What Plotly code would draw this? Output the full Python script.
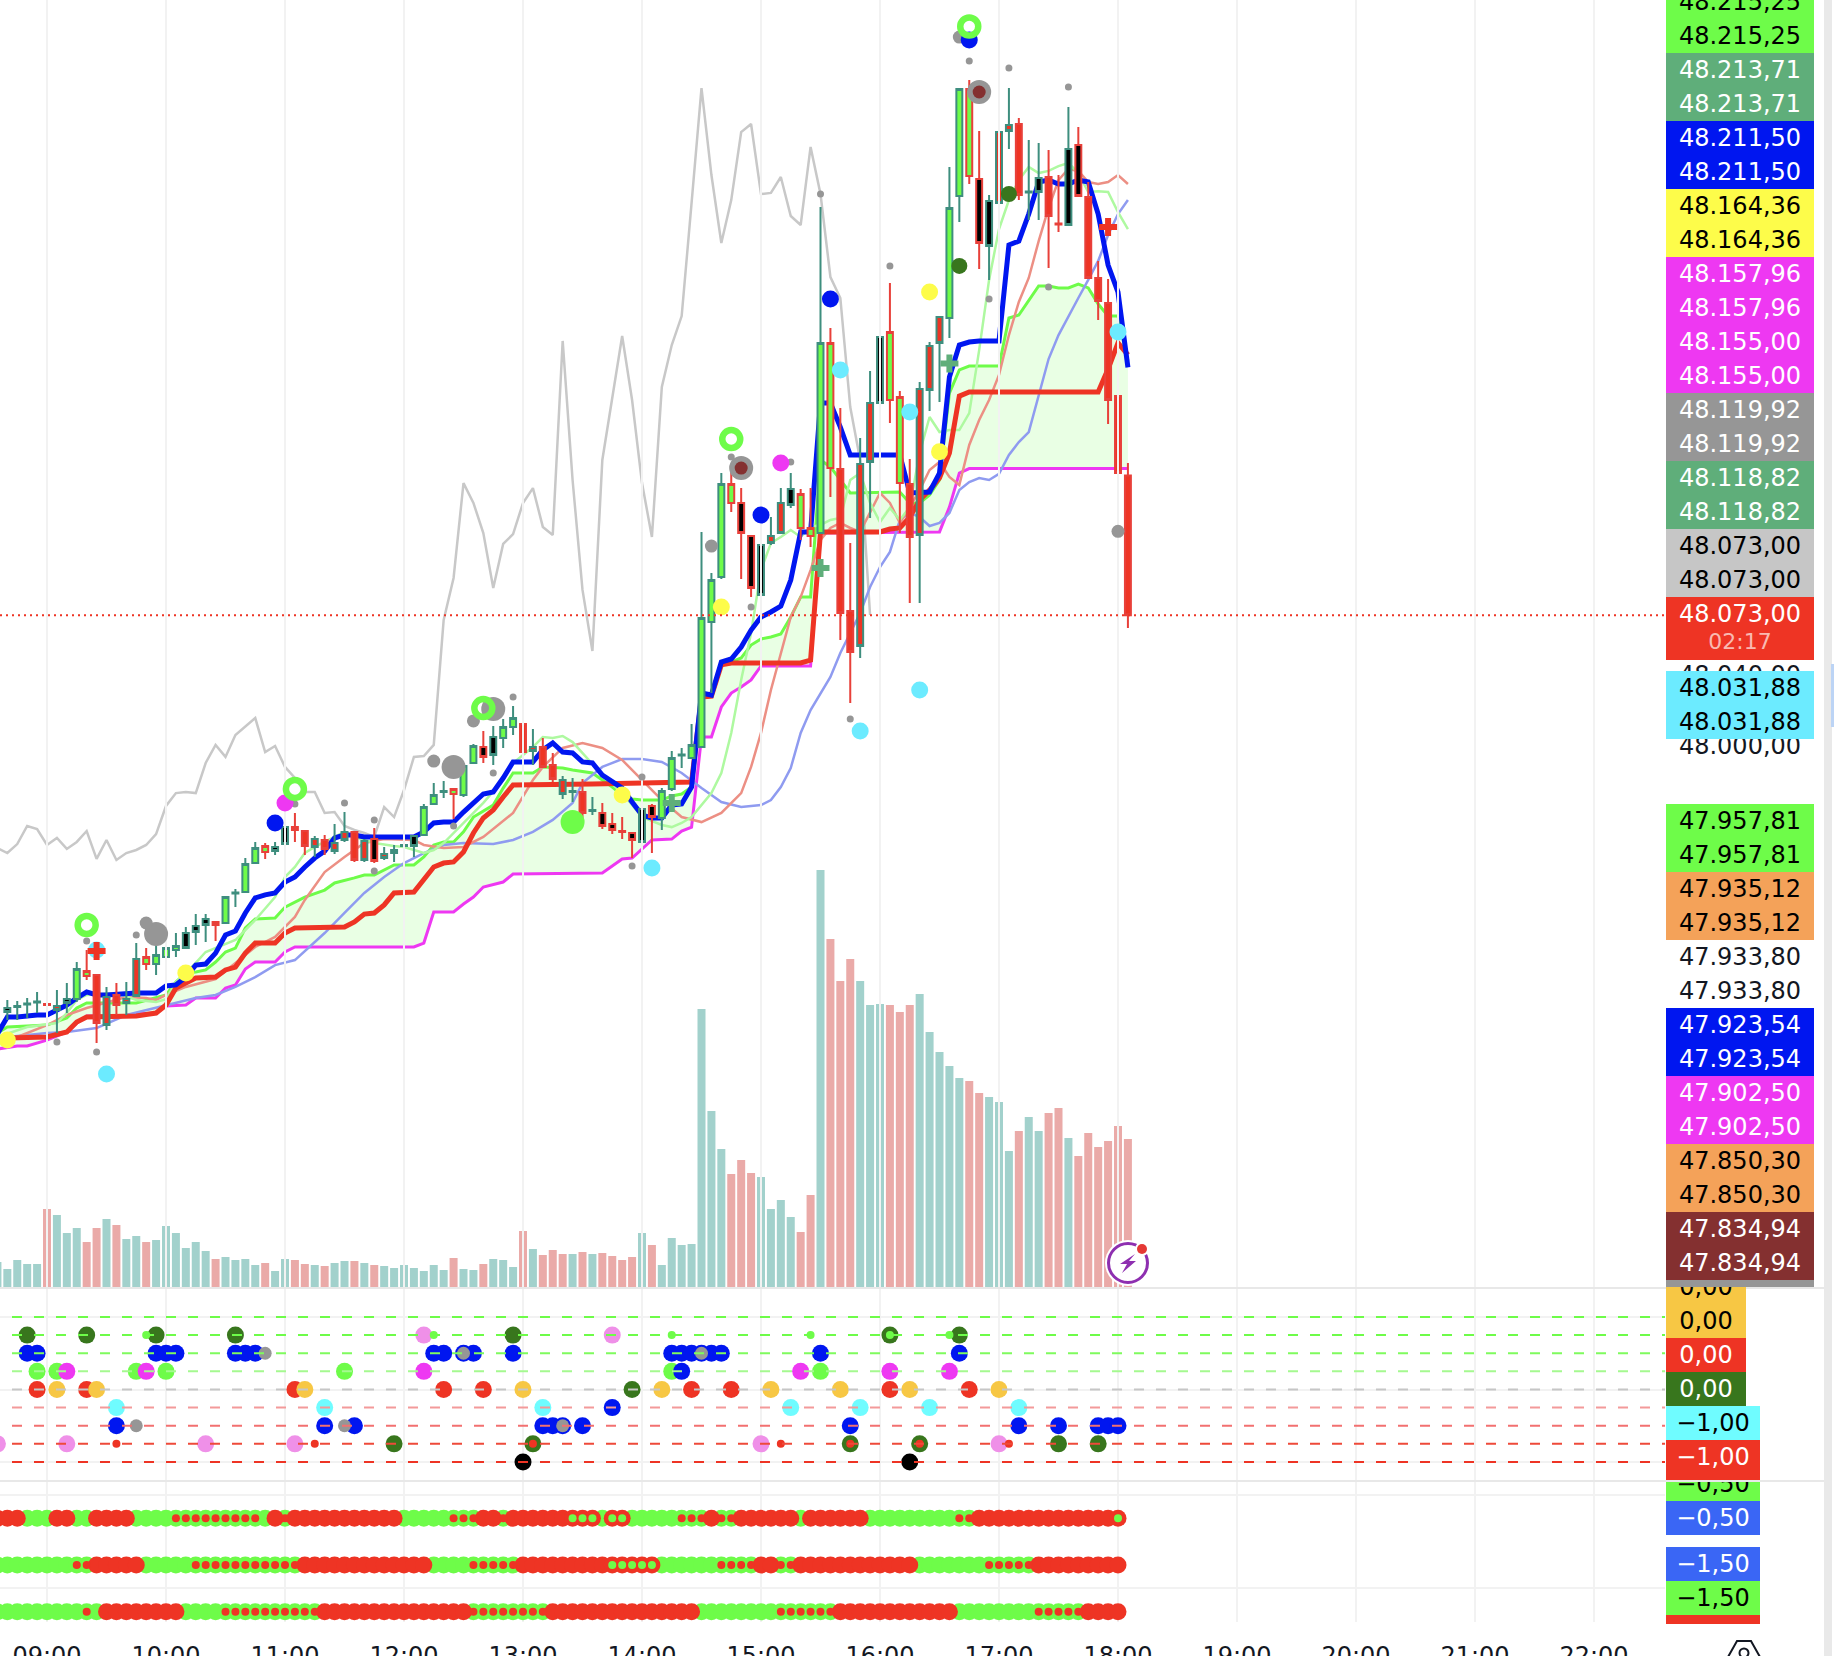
import pandas as pd
import plotly.graph_objects as go

W, H = 1834, 1656
BASE = pd.Timestamp("2024-03-04 09:00")

# ---------- candles, bar numbers count 5-minute bars from 09:00, first bar is -4 ----------
highs = [47858.1,47857.5,47859.2,47862.6,47862,47863.7,47867.6,47879.3,47886,47872.1,47865.4,47867.6,47868.1,47889.9,47887.1,47889.9,47897.2,47895.5,47898.9,47906.1,47906.1,47901.7,47915.6,47920.1,47937.4,47946.4,47945.8,47946.4,47957,47962.6,47952.5,47949.7,47950.3,47956.4,47963.1,47952,47948,47954.2,47943.6,47944.7,47950.3,47950.3,47967.6,47979.3,47980.4,47976,47990.5,48001.1,48008.4,48011.2,48015.1,48022.3,48016.2,48009.5,48004.5,47996.1,47983.2,47982.1,47981.6,47971.5,47968.2,47962.6,47960.3,47951.4,47978.2,47967.6,47976.5,47997.2,47998.9,48012.3,48119.6,48096.7,48152.5,48157,48144.1,48117.3,48116.8,48127.9,48144.1,48152.5,48143.6,48144.1,48301.1,48233.5,48188.8,48113.4,48172.1,48209.5,48240.8,48258.7,48198.3,48160.3,48203.4,48225.7,48239.7,48323.5,48367.1,48372.1,48343.6,48307.8,48345.8,48367.6,48350.9,48338.6,48336.9,48333,48319,48357,48345.8,48315.1,48271,48260.9,48199.5,48158.1]
lows = [47846.9,47846.9,47848,47850.8,47846.9,47839.7,47850.8,47857,47869.3,47834.1,47841.3,47849.7,47849.7,47859.8,47874.9,47872.1,47873.2,47882.1,47886.6,47888.8,47890.5,47891.1,47900.6,47910,47917.9,47934.1,47936.9,47939.1,47944.1,47946.4,47939.1,47938,47939.1,47939.7,47946.4,47935.2,47935.2,47934.6,47936.3,47935.2,47938,47938,47949.7,47967,47970.9,47959.2,47971.5,47990.5,47990.5,47989.4,47998.9,48006.1,47989.9,47989.4,47987.7,47979.9,47970.4,47968.7,47958.1,47961.4,47953.6,47950.8,47948,47937.4,47946.4,47940.2,47953.1,47974.9,47987.7,47993.3,47999.4,48029.6,48093.3,48130.7,48093.3,48083.2,48084.4,48112.3,48118.4,48133,48115.1,48111.2,48119,48139.1,48059.2,48024,48049.2,48127.4,48183.3,48180.5,48119,48079.9,48079.9,48187.2,48192.2,48228,48292.8,48314,48266.5,48260.4,48288.3,48333.5,48305,48293.9,48293.9,48267.1,48287.2,48291.1,48307.3,48261.5,48238,48179.9,48151.4,48065.9]
body_top = [47853.6,47854.7,47856.1,47857.3,47855.9,47854.7,47858.6,47875.4,47874.3,47872.1,47859.8,47860.9,47858.6,47881,47882.1,47883.2,47887.1,47888.3,47895.5,47899.4,47903.3,47901.7,47915.6,47918.2,47934.1,47943,47944.1,47943.6,47954.7,47954.7,47952.5,47948,47947.5,47945.8,47952,47952,47946.9,47948,47939.7,47941.9,47944.7,47949.7,47965.9,47972.6,47974.9,47976,47988.8,48000,47999.4,48005,48010.6,48015.6,48012.3,47999.4,47999.4,47989.4,47981,47974.9,47974.3,47964.2,47962.6,47956.4,47952.5,47951.4,47964.8,47966.5,47974.9,47993.3,47995.3,48000.6,48071.5,48092.7,48146.4,48146.4,48135.8,48117.3,48112.3,48117.3,48135.8,48143.6,48140.8,48121.8,48225.2,48225.2,48154.8,48075.4,48157.6,48191.6,48228.5,48231.3,48195,48146.4,48199.5,48223.5,48239.7,48300.6,48367.1,48367.1,48316.8,48304.5,48343,48347,48347.5,48309.8,48317.3,48317.9,48291.9,48333.5,48335.8,48306.7,48261.5,48247.5,48195.5,48151.1]
body_bot = [47851.4,47854.2,47855.6,47856.7,47855.3,47852.5,47856.4,47858.6,47871.5,47845.2,47844.1,47855.3,47856.4,47860.3,47878.2,47878.2,47882.1,47886,47887.1,47896.1,47900,47900,47901.1,47917.6,47918.4,47934.6,47940.8,47941.3,47945.2,47953.1,47944.1,47943.6,47942.5,47941.3,47947.5,47936.3,47936.3,47935.7,47937.4,47940.2,47944.1,47944.1,47950.3,47967.6,47974.3,47973.2,47972.6,47990.5,47993.9,47995,48004.5,48010.6,47996.6,47997.2,47988.3,47981.6,47973.2,47974.3,47962.6,47963.7,47955.3,47953.1,47952,47947.5,47946.4,47960.3,47959.8,47976,47994.7,47993.3,47999.4,48069.3,48094.4,48135.8,48119,48088.3,48084.4,48113.4,48119,48134.6,48121.8,48117.3,48119,48155.3,48074.3,48052.5,48055.9,48158.7,48191.6,48193.3,48146.9,48116.8,48117.9,48198.9,48225.2,48239.1,48307.3,48318.5,48281,48279.4,48303.4,48343.6,48307.8,48309.2,48309.5,48296.1,48291.4,48291.1,48307.3,48261.5,48248.6,48193.3,48152.5,48073]
candle_styles = ("kT gT gT gT rR rT kT gT gR rR "
                 "rT rR rT rT gR gT gT gT kT kT "
                 "kT kR gT gT gT gT gR kT kT kR "
                 "rR rT rR rT rT rR rT kR rT rT "
                 "gT kT gT gT gT gR gT gT kR kT "
                 "gT gT rR rT rR rR rT gT rR gT "
                 "kR kR rR kR kT kR gT gT gT gT "
                 "gT gT gT gR kR kR kT rT rT kT "
                 "gR gR gT gR rR rR rT rT kT gR "
                 "gR rR rT rT rT gT gT gR kR kT "
                 "rT rT rR gT kT rR rR kT kR rR "
                 "rR rR rR rR").split()
FIRST_CANDLE = -4

# ---------- volume, first bar is -5 ----------
volume = [25,18,27,23,23,78,72,54,59,45,59,68,62,48,51,45,47,61,54,39,45,36,28,30,27,28,22,24,16,28,27,23,22,21,24,26,26,24,22,21,19,22,19,16,22,17,29,18,17,23,28,27,20,56,38,32,37,33,33,35,33,34,31,27,30,54,42,22,49,42,43,278,176,138,113,127,114,110,78,87,70,55,92,417,348,306,328,306,282,283,282,275,282,293,255,235,221,209,206,194,190,185,136,156,170,156,174,179,149,131,154,140,146,161,148]
volume_side = ("TTTTTSTTTS" "STSTTSTTTT" "TTSTTTTSTT" "SSTSTTSTST" "TTTTTTSTTS"
               "TTTSTSSSTS" "TSSSSTSTTT" "TTTTSSSTTT" "TSSTSSSTTT" "SSSTTTTTSS"
               "TTTSTTSSTS" "SSSSS")
FIRST_VOLUME = -5

# ---------- indicator lines ----------
blue_bars = [-5,-4,-3,-2,-1,0,1,2,3,4,5,6,9,11,12,13,14,15,16,17,18,19,20,21,22,23,24,25,26,27,28,29,30,31,32,37,38,39,40,41,42,43,44,45,46,47,49,50,51,52,53,54,55,56,57,58,59,60,61,62,63,64,65,66,67,68,69,70,71,72,73,74,75,76,77,78,79,80,81,86,87,88,89,90,91,92,93,94,96,97,98,99,100,101,102,103,104,105,106,107,108,109]
blue_vals = [47839.1,47848.6,47848.6,47849.2,47849.7,47849.7,47852.5,47855.3,47859.2,47862.6,47860.9,47860.9,47862,47862,47865.9,47866.5,47870.9,47877.6,47878.2,47884.3,47894.4,47896.6,47906.7,47915.1,47916.8,47917.9,47924,47926.8,47932.4,47937.4,47941.3,47948.6,47950.3,47950.3,47949.2,47949.2,47952,47957,47957.5,47957.5,47963.1,47968.2,47973.2,47974.3,47982.1,47991.1,47991.1,47997.8,48001.7,47996.6,47996.1,47991.1,47990.5,47983.8,47979.9,47976.5,47968.7,47961.4,47959.8,47959.8,47967,47967.6,47977.1,48029.6,48028.5,48046.9,48048.6,48055.3,48064.8,48072.1,48074.9,48078.2,48092.7,48119.6,48119.6,48191.6,48191.6,48178.2,48162.6,48162.6,48141.4,48141.4,48141.9,48152.5,48206.2,48224,48225.7,48226.3,48226.3,48279.9,48282.1,48297.2,48315.1,48316.2,48314,48314,48316.2,48315.1,48297.2,48268.7,48253.6,48211.5]

red_bars = [-5,-4,0,2,3,4,9,11,12,13,14,15,17,18,19,20,21,23,24,25,30,31,32,33,34,35,37,39,40,41,42,43,44,45,46,47,55,60,61,65,66,67,68,69,76,77,78,84,85,86,87,88,89,90,91,92,93,106,107,108,109]
red_vals = [47835.7,47836.9,47837.4,47840.2,47845.8,47848.6,47849.2,47850.8,47855.3,47864.8,47867.6,47870.4,47870.9,47874.9,47876.5,47884.3,47889.9,47889.9,47895.5,47898.3,47898.9,47901.7,47906.1,47906.7,47911.2,47917.9,47918.4,47932.4,47934.6,47935.2,47940.8,47951.4,47959.8,47964.2,47971.5,47978.2,47978.8,47979.3,47979.9,47979.9,48027.4,48027.9,48045.3,48046.4,48046.4,48048,48119.6,48119.6,48121.2,48121.8,48127.9,48137.4,48143,48149.7,48163.7,48195.5,48197.8,48197.8,48210.6,48225.2,48218.5]

green_bars = [-5,-4,0,2,3,4,9,12,13,14,15,16,17,18,19,20,21,23,24,25,26,28,29,31,32,33,34,35,37,38,39,40,41,42,43,45,46,47,49,50,52,53,55,56,57,58,59,60,62,63,64,65,66,67,68,69,70,71,72,73,74,75,76,77,78,79,80,81,86,87,88,89,90,91,92,93,96,97,98,99,100,101,102,103,104,105,106,107,108,109]
green_vals = [47839.7,47843,47844.1,47848,47853.6,47856.4,47856.4,47860.9,47868.1,47873.2,47873.7,47874.9,47879.3,47884.9,47887.1,47898.3,47903.3,47903.9,47910,47912.8,47915.6,47919.5,47923.5,47926.3,47927.9,47927.9,47930.7,47933.5,47933.5,47938,47944.7,47946.4,47946.4,47952,47960.3,47967,47976.5,47984.9,47984.9,47988.3,47987.7,47986.6,47984.9,47981,47977.1,47972.6,47970.4,47969.8,47969.8,47972.1,47973.2,47977.1,48027.4,48029.6,48046.4,48046.9,48049.2,48056.4,48059.8,48060.9,48062.6,48072.1,48083.2,48083.2,48159.8,48155.9,48148.6,48141.4,48141.9,48135.8,48135.8,48140.2,48148.6,48197.2,48210.1,48212.3,48212.3,48239.1,48240.8,48249.2,48257,48257,48255.9,48255.9,48258.1,48255.9,48246.9,48240.2,48240.2,48215.25]

magenta_bars = [-5,-3,-2,0,2,3,4,6,7,9,11,12,14,15,17,18,19,20,21,23,24,25,37,38,39,41,42,43,44,46,47,56,58,59,61,63,64,65,66,67,68,69,70,71,72,77,78,90,91,92,93,109]
magenta_vals = [47830.7,47832.4,47832.4,47835.7,47840.2,47845.2,47849.2,47849.2,47848.6,47850.3,47850.8,47854.7,47855.3,47859.2,47859.2,47864.8,47866.5,47875.4,47879.3,47879.3,47884.9,47887.7,47887.7,47889.9,47907.3,47907.3,47911.7,47915.6,47921.2,47924,47928.5,47929,47936.9,47937.4,47947.5,47948,47952.5,47954.7,48005,48005,48021.8,48029.6,48033,48036.9,48044.7,48044.7,48119,48119.6,48133.5,48152.5,48155,48155]

lightgreen_bars = [-5,-2,1,2,3,4,7,9,11,12,13,14,15,16,17,19,20,21,23,24,25,26,27,30,31,33,35,36,38,39,40,42,44,46,47,49,50,51,52,53,54,55,56,58,60,62,63,64,65,67,68,69,70,71,72,73,74,75,76,77,78,79,80,81,82,83,84,85,86,87,88,89,90,91,92,93,94,95,96,97,98,99,100,101,102,103,104,105,106,107,108,109]
lightgreen_vals = [47837.4,47843,47845.2,47850.8,47858.1,47860.9,47862,47858.1,47857,47858.6,47868.1,47873.2,47878.8,47884.9,47887.1,47891.6,47897.2,47902.8,47915.6,47926.8,47932.4,47940.2,47943.6,47952,47949.2,47945.8,47944.1,47943.6,47940.2,47941.9,47945.8,47957,47968.2,47981,47990.5,47999.4,48005,48004.5,48005.6,48002.2,47996.1,47990.5,47983.8,47973.7,47960.3,47955.9,47954.7,47957,47960.3,47973.7,47984.9,48007.3,48036.9,48063.1,48098.3,48113.4,48116.8,48120.7,48116.8,48122.4,48123.5,48126.3,48127.4,48148.6,48152.5,48135.8,48125.1,48133,48126.3,48133.5,48163.7,48183.8,48175.4,48176.5,48176.5,48186,48221.2,48260.4,48288.8,48305,48316.2,48323.5,48320.1,48321.3,48324,48325.7,48320.1,48309.5,48310,48309.5,48298.3,48288.8]

salmon_bars = [-5,-3,0,2,4,8,10,11,12,14,17,19,21,23,25,26,28,30,32,34,37,38,40,42,44,47,49,50,52,54,56,58,60,62,64,66,68,70,71,72,73,74,75,76,77,78,79,80,81,82,83,84,85,86,87,88,89,90,91,92,93,94,95,96,97,98,99,100,101,102,103,104,105,106,107,108,109]
salmon_vals = [47834.6,47837.4,47844.1,47849.7,47853.6,47859.8,47859.2,47858.1,47860.9,47865.4,47869.8,47878.8,47887.7,47893.3,47904.5,47914,47929.6,47938,47945.8,47948,47947.5,47944.7,47943,47943.6,47949.2,47962.6,47981,47988.3,47998.9,48001.7,47998.9,47992.2,47981,47969.8,47960.3,47957.5,47962.6,47973.7,47988.3,48007.3,48031.3,48052,48072.1,48083.2,48098.3,48115.1,48121.8,48124.6,48121.8,48119.6,48130.2,48141.4,48135.8,48124.6,48133.5,48143,48154.2,48158.7,48150.3,48145.8,48168.2,48182.1,48193.3,48207.3,48229.6,48248.1,48261.5,48282.1,48300.6,48316.2,48322.4,48321.3,48315.1,48314,48315.1,48319,48314]

periwinkle_bars = [-5,0,2,5,8,11,13,15,17,19,21,23,25,28,30,32,34,36,38,40,42,45,47,49,51,53,54,56,58,60,62,64,66,68,70,72,73,74,75,76,77,78,79,80,81,82,83,84,85,86,87,88,89,90,91,92,93,94,95,96,97,98,99,100,101,102,103,104,105,106,107,108,109]
periwinkle_vals = [47836.9,47839.7,47840.2,47842.4,47849.7,47853.6,47856.4,47859.2,47860.9,47865.4,47870.9,47877.6,47880.4,47895.5,47906.7,47917.9,47926.8,47934.6,47940.2,47944.7,47945.8,47945.2,47947.5,47952,47958.7,47968.2,47979.3,47988.3,47992.7,47992.7,47991.1,47984.9,47976.5,47968.7,47965.9,47967,47969.8,47977.1,47987.7,48007.3,48020.1,48029.6,48038.6,48052,48063.1,48074.3,48088.8,48100,48108.4,48126.3,48130.2,48127.9,48122.9,48124.6,48130.2,48143,48147.5,48149.7,48148.6,48152,48162.6,48169.8,48175.4,48195.5,48216.2,48229.6,48240.2,48250.3,48260.4,48271,48285.5,48297.2,48305]

gray_bars = list(range(-5, 84))
gray_vals = [47943,47940.2,47945.2,47955.3,47953.6,47944.7,47948.6,47942.5,47946.4,47952.5,47936.9,47947.5,47936.3,47940.2,47941.9,47944.7,47950.8,47966.5,47973.7,47974.3,47973.7,47990.5,48000.6,47993.9,48006.1,48010.6,48015.6,47996.6,48000,47988.3,47982.1,47974.3,47974.3,47962.6,47963.1,47955.3,47953.1,47951.4,47949.2,47965.9,47960.3,47975.4,47993.9,47994.4,48000.6,48070.4,48093.9,48146.9,48135.8,48119,48088.3,48112.9,48118.4,48135.8,48144.1,48122.4,48117.9,48226.3,48148.6,48087.2,48053.1,48159.8,48194.4,48229.1,48193.3,48146.9,48116.8,48200.6,48224,48240.2,48303.4,48367.6,48319,48281,48305,48343,48347.5,48308.4,48309,48317.9,48296.1,48291.1,48334.7,48308.4,48262,48250.3,48189.4,48159.8,48073.2]

LAST_PRICE = 48073.0

# ---------- chart markers (bar, price) ----------
ring_bars = [4,25,44,69,93]
ring_vals = [47900,47976,48021.2,48171.5,48402]
dot_gray_bars = [4,1,5,9,25,30,33,33,41,45,47,59,60,69,71,75,81,78,85,95,93,97,103,101]
dot_gray_vals = [47891.1,47834.6,47829,47894.4,47967.6,47968.2,47958.7,47930.2,47955.3,47984.9,48027.4,47933,47982.7,48161.5,48077.7,48158.7,48015.1,48308.4,48268.2,48249.7,48382.7,48378.8,48368.2,48256.4]
mid_gray_bars = [10,39,43,67,108,92]
mid_gray_vals = [47901.1,47991.6,48014,48111.7,48119.92,48396.1]
big_gray_bars = [11,41,45,70,94]
big_gray_vals = [47895,47988.3,48020.7,48155.3,48365.4]
brown_bars = [70,94]
brown_vals = [48155.3,48365.4]
blue_dot_bars = [23,72,79,93]
blue_dot_vals = [47957,48129,48249.7,48394.4]
magenta_dot_bars = [24,74]
magenta_dot_vals = [47968.2,48158.1]
cyan_bars = [5,6,61,82,88,80,87,108]
cyan_vals = [47886,47816.7,47931.8,48008.4,48031.3,48210.1,48186.6,48231.3]
yellow_bars = [-4,14,58,68,90,89]
yellow_vals = [47835.7,47873.2,47972.6,48077.7,48164.36,48253.6]
limegreen_bars = [53]
limegreen_vals = [47957.5]
dkgreen_bars = [92,97]
dkgreen_vals = [48268.2,48308.4]
redplus_bars = [5,107]
redplus_vals = [47885.5,48290]
greenplus_bars = [63,78,91]
greenplus_vals = [47968.2,48099.4,48213.71]

# ---------- signal pane, levels and dots ----------
signal_levels = [1, 0.75, 0.5, 0.25, 0, -0.25, -0.5, -0.75, -1]
signal_level_colors = ["#6efc49","#6efc49","#7ffb5e","#a5f990","#c6c6c6","#f39a9a","#f27070","#ee4a3a","#ee3424"]
signal_dots = [
    (0.75, "#38761d", 17, [-2,4,11,19,47,85,92]),
    (0.75, "#ef90e8", 17, [38,57]),
    (0.75, "#6efc49", 8,  [10,39,63,77,85,91]),
    (0.5,  "#0016f0", 17, [-2,-1,11,12,13,19,20,21,39,40,42,43,47,63,64,65,66,67,68,78,92]),
    (0.5,  "#969696", 13, [22,42,66]),
    (0.25, "#6efc49", 17, [-1,1,9,12,30,63,78]),
    (0.25, "#ee38f2", 17, [2,10,38,76,85,91]),
    (0.25, "#0016f0", 17, [64]),
    (0,    "#38761d", 17, [59]),
    (0,    "#ee3424", 17, [-1,4,25,40,44,65,69,85,93]),
    (0,    "#f7c744", 17, [1,5,26,48,62,73,80,87,96]),
    (-0.25,"#6ffcff", 17, [7,28,50,75,82,89,98]),
    (-0.25,"#0016f0", 17, [57]),
    (-0.5, "#0016f0", 17, [7,28,31,50,51,52,54,81,98,102,106,107,108]),
    (-0.5, "#969696", 13, [9,30,52]),
    (-0.75,"#ef90e8", 17, [-5,2,16,25,72,96]),
    (-0.75,"#38761d", 17, [35,49,81,88,102,106]),
    (-0.75,"#ee3424", 8,  [7,27,49,74,81,88,97]),
    (-1,   "#000000", 17, [48,87]),
]

# ---------- state pane, one row per level ----------
state_rows = [
    (-0.5,
     [(-5,-3),(1,2),(5,8),(23,23),(25,35),(44,45),(47,55),(57,58),(67,67),(70,75),(77,82),(94,108)],
     [(-2,0),(3,4),(9,22),(24,24),(36,43),(46,46),(56,56),(59,66),(68,69),(76,76),(83,93)],
     [13,14,15,16,17,18,19,20,21,24,41,42,43,46,64,65,66,68,69,92,93],
     [53,54,55,57,58,108]),
    (-1.5,
     [(5,9),(26,38),(48,61),(72,73),(76,87),(100,108)],
     [(-5,4),(10,25),(39,47),(62,71),(74,75),(88,99)],
     [3,4,15,16,17,18,19,20,21,22,23,24,25,43,44,45,46,47,68,69,70,71,74,75,95,96,97,98,99],
     [57,58,59,60,61]),
    (-2.5,
     [(6,13),(28,42),(51,65),(80,91),(105,108)],
     [(-5,5),(14,27),(43,50),(66,79),(92,104)],
     [4,18,19,20,21,22,23,24,25,26,27,43,44,45,46,47,48,49,50,74,75,76,77,78,79,100,101,102,103,104],
     []),
]

# ---------- right-hand scale labels: text, fill, text colour, centre, box width ----------
scale_plain = [("48.040,00",675),("48.000,00",746),("47.933,80",957),("47.933,80",991)]
scale_main = [
    ("48.215,25","#6efc49","#000",2),("48.215,25","#6efc49","#000",36),
    ("48.213,71","#5fae7a","#fff",70),("48.213,71","#5fae7a","#fff",104),
    ("48.211,50","#0016f0","#fff",138),("48.211,50","#0016f0","#fff",172),
    ("48.164,36","#fdfc4a","#000",206),("48.164,36","#fdfc4a","#000",240),
    ("48.157,96","#ee38f2","#fff",274),("48.157,96","#ee38f2","#fff",308),
    ("48.155,00","#ee38f2","#fff",342),("48.155,00","#ee38f2","#fff",376),
    ("48.119,92","#969696","#fff",410),("48.119,92","#969696","#fff",444),
    ("48.118,82","#5fae7a","#fff",478),("48.118,82","#5fae7a","#fff",512),
    ("48.073,00","#c6c6c6","#000",546),("48.073,00","#c6c6c6","#000",580),
    ("48.031,88","#6cebff","#000",688),("48.031,88","#6cebff","#000",722),
    ("47.957,81","#6efc49","#000",821),("47.957,81","#6efc49","#000",855),
    ("47.935,12","#f4a259","#000",889),("47.935,12","#f4a259","#000",923),
    ("47.923,54","#0016f0","#fff",1025),("47.923,54","#0016f0","#fff",1059),
    ("47.902,50","#ee38f2","#fff",1093),("47.902,50","#ee38f2","#fff",1127),
    ("47.850,30","#f4a259","#000",1161),("47.850,30","#f4a259","#000",1195),
    ("47.834,94","#843030","#fff",1229),("47.834,94","#843030","#fff",1263),
]
scale_pane = [
    ("0,00","#f7c744","#000",1287,80),("−0,50","#6efc49","#000",1484,94),
    ("0,00","#f7c744","#000",1321,80),("0,00","#ee3424","#fff",1355,80),("0,00","#38761d","#fff",1389,80),
    ("−1,00","#6ffcff","#000",1423,94),("−1,00","#ee3424","#fff",1457,94),
    ("−0,50","#3a66f5","#fff",1518,94),("−1,50","#3a66f5","#fff",1564,94),("−1,50","#6efc49","#000",1598,94),
]
COUNTDOWN = "02:17"

# ---------- helpers ----------
FONT = "DejaVu Sans"
FS = 24
TEAM_T, TEAM_R = "#3e8e7e", "#e8403a"
FILLS = {"g": "#6efc49", "r": "#ee3424", "k": "#000000"}

def t(bars):
    return [BASE + pd.Timedelta(minutes=5 * b) for b in bars]

def spread(runs):
    out = []
    for a, b in runs:
        out.extend(range(a, b + 1))
    return out

def px(x):
    return x / W

def py(y):
    return 1 - y / H

fig = go.Figure()

# volume
vol_bars = [FIRST_VOLUME + i for i in range(len(volume))]
fig.add_trace(go.Bar(x=t(vol_bars), y=volume, width=242000, yaxis="y2",
                     marker=dict(color=["rgba(69,163,153,0.5)" if s == "T" else "rgba(213,85,81,0.5)" for s in volume_side],
                                 line_width=0)))

# lines
def line(bars, vals, color, width, **kw):
    fig.add_trace(go.Scatter(x=t(bars), y=vals, mode="lines", yaxis="y3",
                             line=dict(color=color, width=width), **kw))

line(gray_bars, gray_vals, "#c8c8c8", 2.5)
line(magenta_bars, magenta_vals, "#ee38f2", 3)
line(green_bars, green_vals, "#6efc49", 3, fill="tonexty", fillcolor="rgba(110,252,73,0.15)")
line(periwinkle_bars, periwinkle_vals, "#8f9bf0", 2.5)
line(salmon_bars, salmon_vals, "#ec8f84", 2.5)
line(lightgreen_bars, lightgreen_vals, "#aef9a0", 2.5)
line(red_bars, red_vals, "#ee3424", 5)
line(blue_bars, blue_vals, "#0016f0", 5)

# candles, one trace per fill and border pair
cand_bars = [FIRST_CANDLE + i for i in range(len(highs))]
for style in sorted(set(candle_styles)):
    idx = [i for i, s in enumerate(candle_styles) if s == style]
    fill, border = FILLS[style[0]], TEAM_T if style[1] == "T" else TEAM_R
    side = dict(line=dict(color=border, width=2), fillcolor=fill)
    up = style[0] == "g"
    fig.add_trace(go.Candlestick(
        x=t([cand_bars[i] for i in idx]),
        open=[body_bot[i] if up else body_top[i] for i in idx],
        close=[body_top[i] if up else body_bot[i] for i in idx],
        high=[highs[i] for i in idx], low=[lows[i] for i in idx],
        increasing=side, decreasing=side, whiskerwidth=0, yaxis="y4"))

# markers
def marks(bars, vals, color, size, symbol="circle", lw=0):
    fig.add_trace(go.Scatter(x=t(bars), y=vals, mode="markers", yaxis="y5",
                             marker=dict(color=color, size=size, symbol=symbol,
                                         line=dict(width=lw, color=color))))

marks(big_gray_bars, big_gray_vals, "#969696", 24)
marks(brown_bars, brown_vals, "#843030", 13)
marks(mid_gray_bars, mid_gray_vals, "#969696", 13)
marks(dot_gray_bars, dot_gray_vals, "#969696", 7)
marks(limegreen_bars, limegreen_vals, "#6efc49", 24)
marks(dkgreen_bars, dkgreen_vals, "#38761d", 16)
marks(cyan_bars, cyan_vals, "#6cebff", 17)
marks(yellow_bars, yellow_vals, "#fdfc4a", 17)
marks(blue_dot_bars, blue_dot_vals, "#0016f0", 17)
marks(magenta_dot_bars, magenta_dot_vals, "#ee38f2", 17)
marks(ring_bars, ring_vals, "#6efc49", 18, "circle-open", 6.5)
marks(redplus_bars, redplus_vals, "#ee3424", 15, "cross")
marks(greenplus_bars, greenplus_vals, "#5fae7a", 15, "cross")

# price line
X0 = BASE - pd.Timedelta(hours=47 / 119)
X1 = BASE + pd.Timedelta(hours=(1665 - 47) / 119)
fig.add_trace(go.Scatter(x=[X0, X1], y=[LAST_PRICE, LAST_PRICE], mode="lines", yaxis="y5",
                         line=dict(color="#ee3424", width=2, dash="2px,4px")))

# signal pane
for level, color, size, bars in signal_dots:
    fig.add_trace(go.Scatter(x=t(bars), y=[level] * len(bars), mode="markers", yaxis="y6",
                             marker=dict(color=color, size=size, line_width=0)))
DASH_START = BASE - pd.Timedelta(hours=35 / 119)
for level, color in zip(signal_levels, signal_level_colors):
    fig.add_trace(go.Scatter(x=[DASH_START, X1], y=[level, level], mode="lines", yaxis="y6",
                             line=dict(color=color, width=2, dash="10px,12px")))

# state pane
for level, red_runs, green_runs, small_red, small_green in state_rows:
    for runs, color in ((green_runs, "#6efc49"), (red_runs, "#ee3424")):
        bars = spread(runs)
        fig.add_trace(go.Scatter(x=t(bars), y=[level] * len(bars), mode="markers", yaxis="y7",
                                 marker=dict(color=color, size=17, line_width=0)))
    for bars, color in ((small_red, "#ee3424"), (small_green, "#6efc49")):
        if bars:
            fig.add_trace(go.Scatter(x=t(bars), y=[level] * len(bars), mode="markers", yaxis="y7",
                                     marker=dict(color=color, size=8, line_width=0)))

GRID = "#f2f2f2"
MAIN_TOP, MAIN_BOT = 0, 1287
P2_TOP, P2_BOT = 1288, 1480
P3_TOP, P3_BOT = 1481, 1622
price_range = [48000 - (MAIN_BOT - 746) * 0.5587, 48000 + 746 * 0.5587]
main_domain = [py(MAIN_BOT), py(MAIN_TOP)]
hidden = dict(visible=False, overlaying="y", fixedrange=True, domain=main_domain, automargin=False)

fig.update_layout(
    width=W, height=H, showlegend=False, hovermode=False, dragmode=False,
    margin=dict(l=0, r=0, t=0, b=0, pad=0, autoexpand=False),
    paper_bgcolor="#ffffff", plot_bgcolor="rgba(0,0,0,0)", boxgap=0.4, boxgroupgap=0,
    font=dict(family=FONT, size=FS, color="#131722"),
    xaxis=dict(type="date", domain=[0, 1665 / W], range=[X0, X1], anchor="y7", automargin=False,
               showgrid=True, gridcolor=GRID, gridwidth=2, dtick=3600000,
               tick0=BASE, tickformat="%H:%M", ticks="outside", ticklen=12,
               tickcolor="rgba(0,0,0,0)", tickfont=dict(family=FONT, size=FS, color="#131722"),
               showline=False, zeroline=False, rangeslider=dict(visible=False)),
    yaxis=dict(domain=main_domain, range=price_range, tick0=48000, dtick=40, automargin=False,
               showgrid=True, gridcolor=GRID, gridwidth=2, showticklabels=False, zeroline=False),
    yaxis2=dict(range=[0, MAIN_BOT], **hidden),
    yaxis3=dict(range=price_range, **hidden),
    yaxis4=dict(range=price_range, **hidden),
    yaxis5=dict(range=price_range, **hidden),
    yaxis6=dict(domain=[py(P2_BOT), py(P2_TOP)], range=[-(P2_BOT - 1389.5) / 72.5, (1389.5 - P2_TOP) / 72.5],
                tick0=0, dtick=1, showgrid=True, gridcolor=GRID, gridwidth=2, automargin=False,
                showticklabels=False, zeroline=False),
    yaxis7=dict(domain=[py(P3_BOT), py(P3_TOP)], range=[-(P3_BOT - 1495) / 46.7, (1495 - P3_TOP) / 46.7],
                tick0=0, dtick=2, showgrid=True, gridcolor=GRID, gridwidth=2, automargin=False,
                showticklabels=False, zeroline=False),
)

# frame, separators and icons
def rect(x0, y0, x1, y1, color):
    return dict(type="rect", xref="paper", yref="paper", x0=px(x0), x1=px(x1), y0=py(y0), y1=py(y1),
                fillcolor=color, line_width=0, layer="above")

def poly(points, fill=None, stroke=None, width=0, closed=True):
    d = "M " + " L ".join(f"{px(x):.5f} {py(y):.5f}" for x, y in points) + (" Z" if closed else "")
    return dict(type="path", path=d, xref="paper", yref="paper", fillcolor=fill or "rgba(0,0,0,0)",
                line=dict(color=stroke or "rgba(0,0,0,0)", width=width), layer="above")

def circle(cx, cy, r, fill, stroke=None, width=0):
    return dict(type="circle", xref="paper", yref="paper", x0=px(cx - r), x1=px(cx + r),
                y0=py(cy + r), y1=py(cy - r), fillcolor=fill,
                line=dict(color=stroke or "rgba(0,0,0,0)", width=width), layer="above")

cx, cy = 1128, 1263
shapes = [
    rect(1824, 0, 1832, H, "#e9e9e9"),
    rect(1831, 664, 1834, 727, "#bcd4f5"),
    rect(0, 1287, 1824, 1289, "#e8e8e8"),
    rect(0, 1480, 1824, 1482, "#e8e8e8"),
    circle(cx, cy, 23, "#ffffff"),
    circle(cx, cy, 19.5, "#ffffff", "#8e2fb0", 3),
    poly([(cx + 7, cy - 9), (cx - 8, cy + 1), (cx - 1, cy + 1), (cx - 6, cy + 10), (cx + 8, cy - 2), (cx + 1, cy - 2)], "#8e2fb0"),
    circle(cx + 14, cy - 14, 7, "#ffffff"),
    circle(cx + 14, cy - 14, 5, "#e53935"),
    poly([(1737, 1641), (1751, 1641), (1760, 1657), (1751, 1672), (1737, 1672), (1728, 1657)], None, "#131722", 2),
    circle(1744, 1653, 4.5, "rgba(0,0,0,0)", "#131722", 2),
]
fig.update_layout(shapes=shapes)

# scale labels
def label(text, fill, ink, cy_, box_w=148, h=34, size=FS):
    return dict(xref="paper", yref="paper", x=px(1666), y=py(cy_), xanchor="left", yanchor="middle",
                text=text, showarrow=False, bgcolor=fill, borderpad=0, borderwidth=0,
                width=box_w, height=h, align="center", valign="middle",
                font=dict(family=FONT, size=size, color=ink))

notes = []
for text, cy_ in scale_plain:
    notes.append(label(text, "rgba(0,0,0,0)", "#131722", cy_))
notes.append(label("", "#ee3424", "#fff", 628, 148, 64))
notes.append(label("48.073,00", "rgba(0,0,0,0)", "#ffffff", 614))
notes.append(label(COUNTDOWN, "rgba(0,0,0,0)", "#f9b9b1", 641, 148, 24, 22))
for text, fill, ink, cy_, bw in scale_pane:
    notes.append(label(text, fill, ink, cy_, bw))
notes.append(label("", "#ee3424", "#fff", 1475, 94, 10))
notes.append(label("", "#e8e8e8", "#fff", 1481, 158, 2))
notes.append(label("", "#ee3424", "#fff", 1619.5, 94, 9))
for text, fill, ink, cy_ in scale_main:
    notes.append(label(text, fill, ink, cy_))
notes.append(label("", "#969696", "#fff", 1283.5, 148, 7))
fig.update_layout(annotations=notes)

fig.write_html("out.html", config=dict(displayModeBar=False),
               post_script="document.body.style.margin='0';document.body.style.overflow='hidden';")
